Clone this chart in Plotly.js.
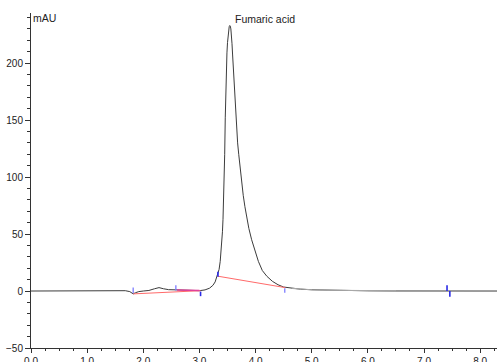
<!DOCTYPE html>
<html>
<head>
<meta charset="utf-8">
<script src="https://cdn.plot.ly/plotly-3.0.1.min.js"></script>
<style>html,body{margin:0;padding:0;background:#fff;}#chart{width:499px;height:362px;}</style>
</head>
<body>
<div id="chart"></div>
<script>
// Chromatogram signal (time in min, absorbance in mAU)
const times = [0, 1.0, 1.55, 1.68, 1.76, 1.82, 1.86, 1.92, 2.0, 2.1, 2.2, 2.28, 2.36, 2.45, 2.6, 2.75, 2.9, 3.0, 3.1, 3.18, 3.24, 3.28, 3.31, 3.33, 3.35, 3.37, 3.39, 3.41, 3.42, 3.43, 3.44, 3.45, 3.46, 3.47, 3.48, 3.49, 3.50, 3.51, 3.52, 3.53, 3.54, 3.55, 3.56, 3.57, 3.58, 3.59, 3.60, 3.62, 3.65, 3.68, 3.70, 3.72, 3.75, 3.78, 3.81, 3.84, 3.88, 3.93, 4.0, 4.05, 4.12, 4.2, 4.3, 4.4, 4.5, 4.65, 4.8, 5.0, 5.3, 5.6, 6.0, 6.5, 7.0, 8.3];
const signal = [0, 0, 0, 0.3, -0.5, -2.5, -1.5, -0.5, 0, 0.5, 2, 3, 2, 1.2, 1, 1, 0.5, 0.3, 1, 2.5, 5, 8, 12, 15, 19, 26, 36, 52, 63, 78, 95, 120, 152, 178, 196, 209, 218, 225, 229.5, 232, 233, 232.5, 230, 225, 217, 208, 198, 179, 150, 130, 120, 110, 96, 84, 74, 65, 55, 45, 33, 26, 18, 13, 8.5, 5.5, 3.5, 2.3, 1.6, 1.1, 0.7, 0.4, 0.2, 0.05, 0, 0];

// Integration baselines (red)
const baseline1Time = [1.82, 3.02];
const baseline1Value = [-2.5, 0.3];
const baseline2Time = [3.33, 4.53];
const baseline2Value = [13, 3];
// Magenta overlay segment
const magentaTime = [2.6, 3.0];
const magentaValue = [1.0, 0.4];

// Peak event markers (blue ticks)
const lightMarkTimes = [1.82, 2.58, 4.52];
const lightMarkLow = [-2, 0.5, -1.5];
const lightMarkHigh = [3, 5, 2.5];
const darkMarkTimes = [3.02, 3.33, 7.41, 7.46];
const darkMarkLow = [-4.5, 12.5, 0, -5];
const darkMarkHigh = [-0.5, 17, 5, 0];

// Light tail segment range
const tailStart = 4.55, tailEnd = 6.6;

// Labels
const peakLabel = "Fumaric acid";
const peakLabelTime = 3.6, peakLabelValue = 239;
const unitLabel = "mAU";

function segs(ts, lo, hi) {
  const x = [], y = [];
  ts.forEach((t, i) => { x.push(t, t, null); y.push(lo[i], hi[i], null); });
  return {x, y};
}
const tailX = [], tailY = [];
times.forEach((t, i) => { if (t >= tailStart && t <= tailEnd) { tailX.push(t); tailY.push(signal[i]); } });

const lm = segs(lightMarkTimes, lightMarkLow, lightMarkHigh);
const dm = segs(darkMarkTimes, darkMarkLow, darkMarkHigh);

const traces = [
  {x: times, y: signal, mode: 'lines', line: {color: '#3c3c3c', width: 1}, hoverinfo: 'skip'},
  {x: tailX, y: tailY, mode: 'lines', line: {color: '#a8a8a8', width: 1.2}, hoverinfo: 'skip'},
  {x: baseline1Time, y: baseline1Value, mode: 'lines', line: {color: '#ff6a6a', width: 1}, hoverinfo: 'skip'},
  {x: baseline2Time, y: baseline2Value, mode: 'lines', line: {color: '#ff6a6a', width: 1}, hoverinfo: 'skip'},
  {x: magentaTime, y: magentaValue, mode: 'lines', line: {color: '#e0409a', width: 1.5}, hoverinfo: 'skip'},
  {x: lm.x, y: lm.y, mode: 'lines', line: {color: '#7d7dff', width: 1.3}, hoverinfo: 'skip'},
  {x: dm.x, y: dm.y, mode: 'lines', line: {color: '#2a2ae6', width: 1.6}, hoverinfo: 'skip'}
];

const font = {family: '"Liberation Sans", Arial, sans-serif', size: 10, color: '#222'};
const layout = {
  width: 499, height: 362,
  margin: {l: 31, r: 2, t: 13, b: 14, pad: 0},
  paper_bgcolor: '#fff', plot_bgcolor: '#fff',
  showlegend: false,
  font: font,
  xaxis: {
    range: [0, 8.3], dtick: 1, tick0: 0, tickformat: '.1f',
    showgrid: false, zeroline: false, showline: true, linecolor: '#333', linewidth: 1,
    ticks: 'outside', ticklen: 4, tickcolor: '#333', tickwidth: 1,
    minor: {dtick: 0.25, ticks: 'outside', ticklen: 2, tickcolor: '#333', showgrid: false},
    tickfont: font
  },
  yaxis: {
    range: [-50, 244], dtick: 50, tick0: 0,
    showgrid: false, zeroline: false, showline: true, linecolor: '#333', linewidth: 1,
    ticks: 'outside', ticklen: 5, tickcolor: '#333', tickwidth: 1,
    minor: {dtick: 10, ticks: 'outside', ticklen: 3, tickcolor: '#333', showgrid: false},
    tickfont: font, ticklabelstandoff: 0
  },
  annotations: [
    {x: peakLabelTime, y: peakLabelValue, xref: 'x', yref: 'y', text: peakLabel, showarrow: false,
     xanchor: 'left', yanchor: 'middle', font: {family: font.family, size: 10.5, color: '#222'}},
    {x: 0, y: 240, xref: 'paper', yref: 'y', text: unitLabel, showarrow: false,
     xanchor: 'left', yanchor: 'middle', xshift: 0, font: {family: font.family, size: 10.5, color: '#222'}}
  ]
};
Plotly.newPlot('chart', traces, layout, {displayModeBar: false, staticPlot: true});
</script>
</body>
</html>
